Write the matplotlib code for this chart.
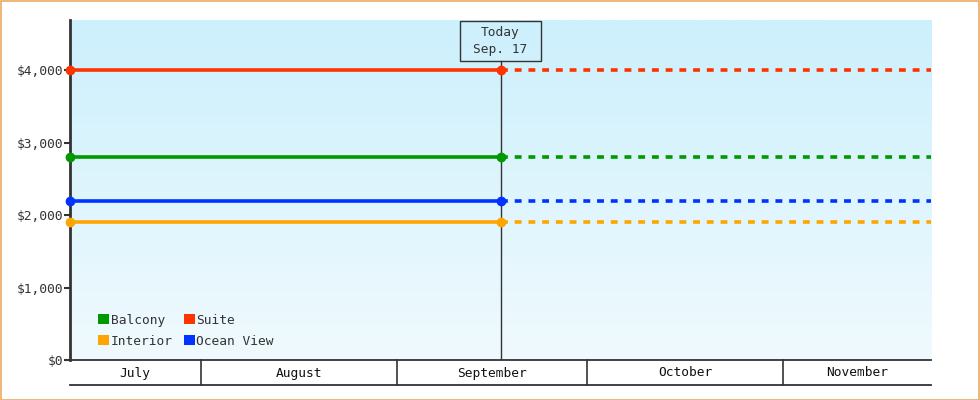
import matplotlib
matplotlib.use("Agg")
import matplotlib.pyplot as plt
import matplotlib.dates as mdates
from matplotlib.patches import Patch, Rectangle
import numpy as np
import pandas as pd

plt.rcParams["font.family"] = ["DejaVu Sans Mono"]
plt.rcParams["font.size"] = 9.3

# data
today = pd.Timestamp("2023-09-17 09:00")
start = today - pd.Timedelta(days=68)
end = today + pd.Timedelta(days=68)
series_names = ["Balcony", "Interior", "Suite", "Ocean View"]
series_values = [2800, 1900, 4000, 2200]
series_colors = ["#009900", "#ffa500", "#ff3300", "#0033ff"]
draw_order = ["Interior", "Ocean View", "Balcony", "Suite"]
months = ["July", "August", "September", "October", "November"]
month_starts = pd.to_datetime(["2023-07-01", "2023-08-01", "2023-09-01", "2023-10-01", "2023-11-01", "2023-12-01"])
yticks = [0, 1000, 2000, 3000, 4000]
ymax = 4690

ink = "#333333"

fig = plt.figure(figsize=(9.8, 4), dpi=100)
ax = fig.add_axes([70 / 980, 40 / 400, 861 / 980, 340 / 400])
ax.set_xlim(start, end)
ax.set_ylim(0, ymax)

# gradient background
grad = np.linspace(0, 1, 256).reshape(-1, 1)
top = np.array([204, 240, 252]) / 255
bot = np.array([240, 250, 254]) / 255
img = top + (bot - top) * grad[..., None]
ax.imshow(img.reshape(256, 1, 3), extent=[0, 1, 0, 1], transform=ax.transAxes,
          aspect="auto", zorder=0)

# series
for name in draw_order:
    i = series_names.index(name)
    v, c = series_values[i], series_colors[i]
    ax.plot([start, today], [v, v], color=c, lw=2.6, marker="o", ms=6,
            solid_capstyle="butt", zorder=4, clip_on=False)
    ax.plot([today, end], [v, v], color=c, lw=2.6, dashes=(1.9, 1.9),
            zorder=3, clip_on=False)

# today marker
ax.axvline(today, ymin=0, ymax=(360 - 61) / 340, color=ink, lw=1, zorder=2)
half = pd.Timedelta(days=6.4)
ax.add_patch(Rectangle((mdates.date2num(today - half), (360 - 61) / 340),
                       mdates.date2num(today + half) - mdates.date2num(today - half),
                       40 / 340, transform=ax.get_xaxis_transform(),
                       fill=False, ec=ink, lw=1, zorder=5))
ax.text(today, (360 - 41) / 340, "Today\nSep. 17", transform=ax.get_xaxis_transform(),
        ha="center", va="center", color=ink, linespacing=1.35, zorder=6)

# axes styling
for s in ["top", "right"]:
    ax.spines[s].set_visible(False)
ax.spines["left"].set_color(ink)
ax.spines["left"].set_linewidth(2)
ax.spines["bottom"].set_color(ink)
ax.spines["bottom"].set_linewidth(1.3)
ax.set_yticks(yticks)
ax.set_yticklabels(["${:,}".format(v) for v in yticks])
ax.tick_params(axis="y", length=4, width=1.5, color=ink, labelcolor=ink, pad=1)
ax.set_xticks([])

# month band below the axis
xt = ax.get_xaxis_transform()
band = -25 / 340
ax.plot([0, 1], [band, band], transform=ax.transAxes, color=ink, lw=1.3, clip_on=False)
for k, m in enumerate(months):
    a = max(month_starts[k], start)
    b = min(month_starts[k + 1], end)
    mid = a + (b - a) / 2
    ax.text(mid, -13 / 340, m, transform=xt, ha="center", va="center", color="#111111")
    if month_starts[k] > start:
        ax.plot([month_starts[k], month_starts[k]], [band, 0], transform=xt,
                color=ink, lw=1.2, clip_on=False)

# legend
handles = [Patch(facecolor=c, edgecolor="none") for c in series_colors]
leg = ax.legend(handles, series_names, ncol=2, loc="lower left",
                bbox_to_anchor=((92 - 70) / 861, (360 - 354) / 340),
                frameon=False, borderpad=0, handlelength=0.85, handleheight=0.85,
                handletextpad=0.1, columnspacing=0.85, labelspacing=0.6)
for t in leg.get_texts():
    t.set_color(ink)

# orange frame around the figure
fig.patches.append(Rectangle((0.5 / 980, 0.5 / 400), 978.5 / 980, 398.5 / 400,
                             transform=fig.transFigure, fill=False,
                             ec="#eba964", lw=1.2))

fig.savefig("out.png", dpi=100)
